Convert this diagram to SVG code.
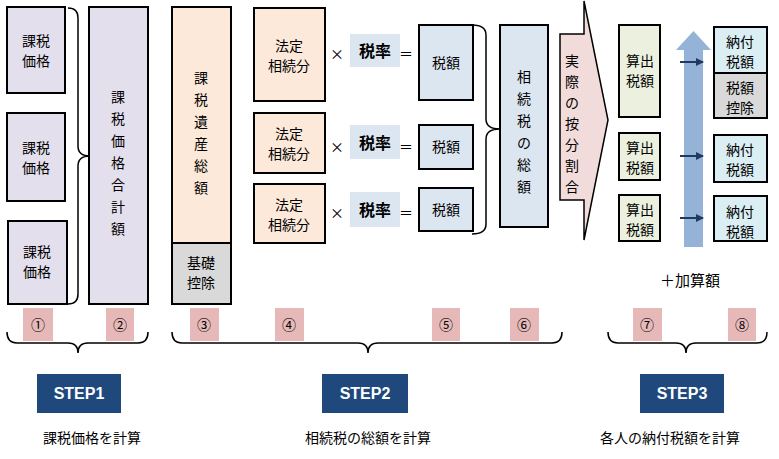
<svg xmlns="http://www.w3.org/2000/svg" width="779" height="459" viewBox="0 0 779 459">
<style>
text{font-family:"Noto Sans CJK JP","Liberation Sans",sans-serif;font-size:14px;fill:#000;text-anchor:middle}
.b{stroke:#000;stroke-width:2}
.lav{fill:#E4DFEC}.pe{fill:#FDE9D9}.gr{fill:#D9D9D9}.bl{fill:#DCE6F1}.gn{fill:#EBF1DE}.lb{fill:#DAEEF3}
.badge{fill:#E6B9B8}
.br{fill:none;stroke:#000;stroke-width:1.5}
.step{fill:#1F497D}
.st{fill:#fff;font-family:"Liberation Sans",sans-serif;font-weight:bold;font-size:16px}
.rate{fill:#DCE6F1}
.rt{font-weight:bold;font-size:16px}
.ar{stroke:#1F3864;stroke-width:2;fill:none;marker-end:url(#ah)}
</style>
<defs><marker id="ah" markerWidth="8" markerHeight="8" refX="7" refY="4" orient="auto" markerUnits="userSpaceOnUse"><path d="M0,0L8,4L0,8z" fill="#1F3864"/></marker></defs>
<rect width="779" height="459" fill="#fff"/>
<g id="kazei1"><rect class="b lav" x="7" y="7" width="58" height="86"/><text x="36" y="46">課税</text><text x="36" y="66">価格</text></g>
<g id="kazei2"><rect class="b lav" x="7" y="113" width="58" height="88"/><text x="36" y="153">課税</text><text x="36" y="173">価格</text></g>
<g id="kazei3"><rect class="b lav" x="8" y="221" width="59" height="83"/><text x="37" y="257">課税</text><text x="37" y="277">価格</text></g>
<g id="goukei"><rect class="b lav" x="89" y="7" width="59" height="297"/>
<text x="118" y="102">課</text><text x="118" y="124">税</text><text x="118" y="146">価</text><text x="118" y="168">格</text><text x="118" y="190">合</text><text x="118" y="212">計</text><text x="118" y="234">額</text></g>
<g id="isan"><rect class="b pe" x="172" y="7" width="59" height="236"/><rect class="b gr" x="172" y="243" width="59" height="61"/>
<text x="201" y="83">課</text><text x="201" y="105">税</text><text x="201" y="127">遺</text><text x="201" y="149">産</text><text x="201" y="171">総</text><text x="201" y="193">額</text>
<text x="201" y="268">基礎</text><text x="201" y="288">控除</text></g>
<g id="houtei1"><rect class="b pe" x="254" y="8" width="71" height="93"/><text x="289" y="51">法定</text><text x="289" y="71">相続分</text></g>
<g id="houtei2"><rect class="b pe" x="254" y="113" width="71" height="60"/><text x="289" y="139">法定</text><text x="289" y="159">相続分</text></g>
<g id="houtei3"><rect class="b pe" x="254" y="184" width="71" height="59"/><text x="289" y="210">法定</text><text x="289" y="230">相続分</text></g>
<g id="ops">
<text x="337" y="59">×</text><rect class="rate" x="350" y="34" width="50" height="33"/><text class="rt" x="375" y="57">税率</text><text x="406" y="59">＝</text>
<text x="337" y="152">×</text><rect class="rate" x="350" y="125" width="50" height="34"/><text class="rt" x="375" y="149">税率</text><text x="406" y="152">＝</text>
<text x="337" y="218">×</text><rect class="rate" x="350" y="192" width="50" height="35"/><text class="rt" x="375" y="216">税率</text><text x="406" y="218">＝</text>
</g>
<g id="zeigaku1"><rect class="b bl" x="419" y="25" width="54" height="75"/><text x="446" y="68">税額</text></g>
<g id="zeigaku2"><rect class="b bl" x="419" y="125" width="54" height="44"/><text x="446" y="152">税額</text></g>
<g id="zeigaku3"><rect class="b bl" x="419" y="188" width="54" height="43"/><text x="446" y="215">税額</text></g>
<g id="soukaku"><rect class="b bl" x="500" y="25" width="48" height="202"/>
<text x="524" y="82">相</text><text x="524" y="104">続</text><text x="524" y="126">税</text><text x="524" y="148">の</text><text x="524" y="170">総</text><text x="524" y="192">額</text></g>
<g id="anbun"><path d="M560,34H584V1L608,120L584,240V200H560Z" fill="#F2DCDB" stroke="#000" stroke-width="1.5"/>
<text x="572" y="66">実</text><text x="572" y="87">際</text><text x="572" y="108">の</text><text x="572" y="129">按</text><text x="572" y="150">分</text><text x="572" y="171">割</text><text x="572" y="192">合</text></g>
<g id="bigarrow"><path d="M684,247V50H676L693.5,31L711,50H703V247Z" fill="#95B3D7"/></g>
<g id="sanshutsu1"><rect class="b gn" x="619" y="25" width="41" height="92"/><text x="640" y="66">算出</text><text x="640" y="86">税額</text></g>
<g id="sanshutsu2"><rect class="b gn" x="619" y="133" width="41" height="47"/><text x="640" y="153">算出</text><text x="640" y="173">税額</text></g>
<g id="sanshutsu3"><rect class="b gn" x="619" y="195" width="41" height="46"/><text x="640" y="215">算出</text><text x="640" y="235">税額</text></g>
<g id="noufu1"><rect class="b lb" x="714" y="27" width="53" height="46"/><rect class="b gr" x="714" y="73" width="53" height="45"/>
<text x="740" y="47">納付</text><text x="740" y="67">税額</text><text x="740" y="93">税額</text><text x="740" y="113">控除</text></g>
<g id="noufu2"><rect class="b lb" x="714" y="135" width="53" height="47"/><text x="740" y="155">納付</text><text x="740" y="175">税額</text></g>
<g id="noufu3"><rect class="b lb" x="714" y="196" width="53" height="45"/><text x="740" y="217">納付</text><text x="740" y="237">税額</text></g>
<text x="690" y="286" style="font-size:15px">＋加算額</text>
<g id="connectors">
<path class="br" d="M68,8Q78,8 78,18V146Q78,156 90,156Q78,156 78,166V294Q78,304 68,304"/>
<path class="br" d="M472,25Q486,25 486,35V119Q486,129 500,129Q486,129 486,139V224Q486,234 472,234"/>
<path class="ar" d="M680,62H703"/><path class="ar" d="M680,156H703"/><path class="ar" d="M680,218H703"/>
<path class="br" d="M7,332Q7,343 17,343H68Q78,343 78,353Q78,343 88,343H138Q148,343 148,332"/>
<path class="br" d="M172,332Q172,343 182,343H358Q368,343 368,353Q368,343 378,343H552Q562,343 562,332"/>
<path class="br" d="M608,332Q608,343 618,343H676Q686,343 686,353Q686,343 696,343H757Q767,343 767,332"/>
</g>
<g id="badges">
<rect class="badge" x="23" y="308" width="30" height="33"/><text x="38" y="330">①</text>
<rect class="badge" x="106" y="308" width="28" height="33"/><text x="120" y="330">②</text>
<rect class="badge" x="190" y="308" width="29" height="33"/><text x="204" y="330">③</text>
<rect class="badge" x="275" y="308" width="29" height="33"/><text x="289" y="330">④</text>
<rect class="badge" x="432" y="308" width="28" height="33"/><text x="446" y="330">⑤</text>
<rect class="badge" x="510" y="308" width="29" height="33"/><text x="524" y="330">⑥</text>
<rect class="badge" x="633" y="308" width="29" height="33"/><text x="647" y="330">⑦</text>
<rect class="badge" x="728" y="308" width="28" height="33"/><text x="742" y="330">⑧</text>
</g>
<g id="step1"><rect class="step" x="37" y="374" width="84" height="39"/><text class="st" x="79" y="399">STEP1</text><text x="92" y="443">課税価格を計算</text></g>
<g id="step2"><rect class="step" x="322" y="374" width="86" height="39"/><text class="st" x="365" y="399">STEP2</text><text x="368" y="443">相続税の総額を計算</text></g>
<g id="step3"><rect class="step" x="640" y="374" width="84" height="39"/><text class="st" x="682" y="399">STEP3</text><text x="670" y="443">各人の納付税額を計算</text></g>
</svg>
